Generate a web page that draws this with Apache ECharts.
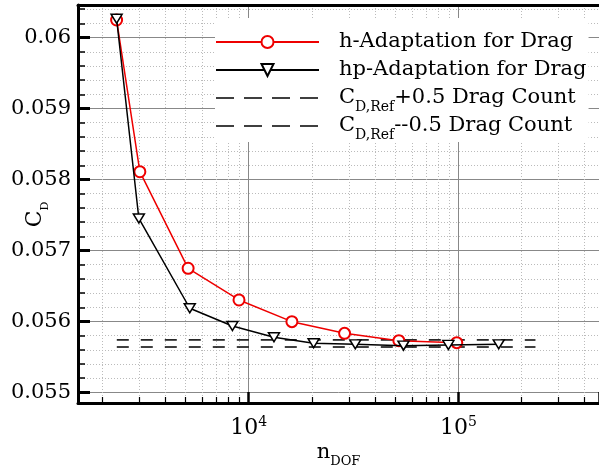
<!DOCTYPE html>
<html><head><meta charset="utf-8">
<script src="https://cdn.jsdelivr.net/npm/echarts@6/dist/echarts.min.js"></script>
<style>html,body{margin:0;padding:0;background:#fff}#c{width:599px;height:476px}</style>
</head><body><div id="c"></div>
<script>
// ---- data ----
const hDOF  = [2345, 3027, 5143, 8990, 16070, 28650, 52000, 98200];
const hCD   = [0.060248, 0.058110, 0.056749, 0.056303, 0.055997, 0.055833, 0.055729, 0.055701];
const hpDOF = [2345, 2994, 5236, 8363, 13196, 20392, 32220, 54700, 89560, 155600];
const hpCD  = [0.060265, 0.057451, 0.056186, 0.055936, 0.055777, 0.055693, 0.055678, 0.055659, 0.055669, 0.055678];
const refDOF   = [2350, 233000];
const refPlus  = [0.05574, 0.05574];
const refMinus = [0.05564, 0.05564];
const seriesNames = ['h-Adaptation for Drag', 'hp-Adaptation for Drag', 'CD,Ref+0.5 Drag Count', 'CD,Ref--0.5 Drag Count'];
const yTickLabels = ['0.055', '0.056', '0.057', '0.058', '0.059', '0.06'];
const xTickLabels = {'10000': ['10', '4'], '100000': ['10', '5']};
const xRange = [1535, 468000];
const yRange = [0.054851, 0.060459];

const FF = 'DejaVu Serif';
const zip = (a, b) => a.map((v, i) => [v, b[i]]);

const chart = echarts.init(document.getElementById('c'), null, {renderer: 'canvas'});
const legendName = n => {
  if (n.indexOf('CD,Ref') === 0) return '{m|C}{s|D,Ref}{m|' + n.slice(6) + '}';
  return '{m|' + n + '}';
};
chart.setOption({
  animation: false,
  backgroundColor: '#fff',
  grid: {left: 78, right: 0, top: 5, bottom: 73, containLabel: false, outerBoundsMode: 'none'},
  xAxis: [{
    type: 'log', logBase: 10, min: xRange[0], max: xRange[1], position: 'bottom',
    name: '{m|n}{s|DOF}', nameLocation: 'middle', nameGap: 34, nameMoveOverlap: false,
    nameTextStyle: {rich: {
      m: {fontFamily: FF, fontSize: 21, lineHeight: 31, color: '#000'},
      s: {fontFamily: FF, fontSize: 13, lineHeight: 31, color: '#000', verticalAlign: 'bottom'}
    }},
    axisLine: {show: true, onZero: false, lineStyle: {color: '#000', width: 3}},
    axisTick: {show: true, inside: true, length: 11, lineStyle: {color: '#000', width: 2.5}},
    minorTick: {show: true, splitNumber: 9, length: 6, lineStyle: {color: '#000', width: 1.2}},
    axisLabel: {
      showMinLabel: false, showMaxLabel: false, margin: 12,
      formatter: v => {
        const k = String(Math.round(v));
        return xTickLabels[k] ? '{m|' + xTickLabels[k][0] + '}{p|' + xTickLabels[k][1] + '}' : '';
      },
      rich: {
        m: {fontFamily: FF, fontSize: 22, lineHeight: 26, color: '#000'},
        p: {fontFamily: FF, fontSize: 14, lineHeight: 26, color: '#000', verticalAlign: 'top'}
      }
    },
    splitLine: {show: true, showMinLine: false, showMaxLine: false, lineStyle: {color: '#888', width: 1}},
    minorSplitLine: {show: true, lineStyle: {color: '#bbb', width: 1, type: [1, 2]}}
  }, {
    type: 'log', logBase: 10, min: xRange[0], max: xRange[1], position: 'top',
    axisLine: {show: true, onZero: false, lineStyle: {color: '#000', width: 3}},
    axisTick: {show: false}, axisLabel: {show: false}, splitLine: {show: false}
  }],
  yAxis: {
    type: 'value', min: yRange[0], max: yRange[1],
    name: '{m|C}{s|D}', nameLocation: 'middle', nameGap: 27, nameMoveOverlap: false,
    nameTextStyle: {padding: [0, 21, 0, 0], rich: {
      m: {fontFamily: FF, fontSize: 22, lineHeight: 32, color: '#000'},
      s: {fontFamily: FF, fontSize: 11, lineHeight: 32, color: '#000', verticalAlign: 'bottom'}
    }},
    axisLine: {show: true, onZero: false, lineStyle: {color: '#000', width: 3}},
    axisTick: {show: true, inside: true, length: 12, lineStyle: {color: '#000', width: 3}},
    minorTick: {show: true, splitNumber: 5, length: 7, lineStyle: {color: '#000', width: 1.5}},
    axisLabel: {
      showMinLabel: false, showMaxLabel: false, margin: 7,
      fontFamily: FF, fontSize: 21, color: '#000',
      formatter: v => {
        const s = String(+v.toFixed(3));
        return yTickLabels.indexOf(s) >= 0 && Math.abs(v - +s) < 1e-9 ? s : '';
      }
    },
    splitLine: {show: true, showMinLine: false, showMaxLine: false, lineStyle: {color: '#888', width: 1}},
    minorSplitLine: {show: true, lineStyle: {color: '#bbb', width: 1, type: [1, 2]}}
  },
  legend: {
    orient: 'vertical', left: 215, top: 18, backgroundColor: '#fff',
    padding: [8, 2, 0, 0], itemWidth: 103, itemHeight: 15, itemGap: -4,
    data: [
      {name: seriesNames[0]},
      {name: seriesNames[1]},
      {name: seriesNames[2], itemStyle: {color: 'rgba(0,0,0,0)', borderColor: 'rgba(0,0,0,0)', borderWidth: 0}, lineStyle: {type: [18, 10], width: 1.5, color: '#000'}},
      {name: seriesNames[3], itemStyle: {color: 'rgba(0,0,0,0)', borderColor: 'rgba(0,0,0,0)', borderWidth: 0}, lineStyle: {type: [18, 10], width: 1.5, color: '#000'}}
    ],
    formatter: legendName,
    textStyle: {
      fontFamily: FF, fontSize: 21, color: '#000', lineHeight: 32, padding: [0, 0, 0, 15],
      rich: {
        m: {fontFamily: FF, fontSize: 21, lineHeight: 32, color: '#000'},
        s: {fontFamily: FF, fontSize: 14, lineHeight: 32, color: '#000', verticalAlign: 'bottom'}
      }
    }
  },
  series: [
    {name: seriesNames[2], type: 'line', data: zip(refDOF, refPlus), symbol: 'none', silent: true, z: 2,
     lineStyle: {color: '#000', width: 1.5, type: [12, 12]}},
    {name: seriesNames[3], type: 'line', data: zip(refDOF, refMinus), symbol: 'none', silent: true, z: 2,
     lineStyle: {color: '#000', width: 1.5, type: [12, 12]}},
    {name: seriesNames[0], type: 'line', data: zip(hDOF, hCD), symbol: 'emptyCircle', symbolSize: 11, z: 3,
     itemStyle: {color: '#e00', borderWidth: 1.5}, lineStyle: {color: '#e00', width: 1.5}},
    {name: seriesNames[1], type: 'line', data: zip(hpDOF, hpCD), symbol: 'triangle', symbolRotate: 180, symbolSize: [11, 9], z: 4,
     itemStyle: {color: '#fff', borderColor: '#000', borderWidth: 1.5}, lineStyle: {color: '#000', width: 1.5}}
  ]
});
</script></body></html>
